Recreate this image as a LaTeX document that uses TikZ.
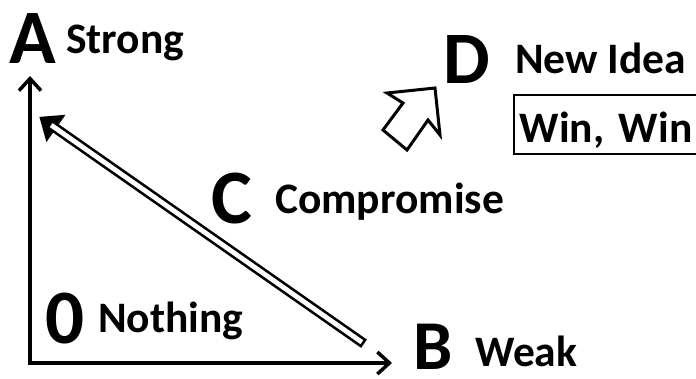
\documentclass[tikz,border=0pt]{standalone}
\usepackage{fontspec}
\setmainfont{Carlito}
\usetikzlibrary{arrows.meta,calc}
\frenchspacing

\begin{document}
\begin{tikzpicture}[x=1pt,y=-1pt,
    axis/.style={line width=3.5pt, {Straight Barb[length=12pt,width=22pt]}-{Straight Barb[length=12pt,width=22pt]}},
    letter/.style={font=\fontsize{77}{80}\selectfont\bfseries, inner sep=0pt, anchor=base},
    word/.style={font=\fontsize{43.5}{50}\selectfont\bfseries, inner sep=0pt, anchor=base west},
    shaft/.style={line width=2.5pt, fill=white, line join=miter},
    block/.style={line width=3pt, fill=white, line join=miter}]
    \useasboundingbox (0,0) rectangle (696,378);
    \clip (0,0) rectangle (696,378);

    % axes
    \coordinate (O) at (30,363);
    \coordinate (ytop) at (30,76);
    \coordinate (xend) at (392,363);
    \draw[axis] (ytop) |- (xend);

    % letters and their words
    \node[letter] (A) at (33,63) {A};
    \node[word] (strong) at (66,53) {Strong};
    \node[letter, font=\fontsize{70}{72}\selectfont\bfseries] (B) at (433,369) {B};
    \node[word] (weak) at (475,366) {Weak};
    \node[letter] (C) at (232,223) {C};
    \node[word] (compr) at (275,213) {Compromise};
    \node[letter, font=\fontsize{74}{76}\selectfont\bfseries] (D) at (467,83) {D};
    \node[word] (idea) at (515,73) {New Idea};
    \node[letter] (zero) at (65,343) {0};
    \node[word] (nothing) at (98,332) {Nothing};
    \node[word, draw, line width=1.5pt, text height=43pt, text depth=8pt,
          inner xsep=6pt, inner ysep=4pt, text width=220pt, align=left] (win) at (513,142) {Win, Win};

    % double arrow from B side up to A
    \coordinate (tail) at (363,343);
    \coordinate (tip) at (41,118);
    \coordinate (hb) at ($(tip)!17pt!(tail)$);
    \coordinate (sh) at ($(tip)!11pt!(tail)$);
    \draw[shaft, fill=black] (tip) -- ($(hb)!14pt!90:(tip)$) -- ($(hb)!14pt!-90:(tip)$) -- cycle;
    \draw[shaft] ($(sh)!3.8pt!90:(tip)$) -- ($(tail)!3.8pt!90:(tip)$)
        -- ($(tail)!3.8pt!-90:(tip)$) -- ($(sh)!3.8pt!-90:(tip)$) -- cycle;

    % hollow arrow towards D
    \draw[block] (435,88) -- (440,135) -- (428,120) -- (407,150) -- (383,130) -- (403,103) -- (387,93) -- cycle;
\end{tikzpicture}
\end{document}
